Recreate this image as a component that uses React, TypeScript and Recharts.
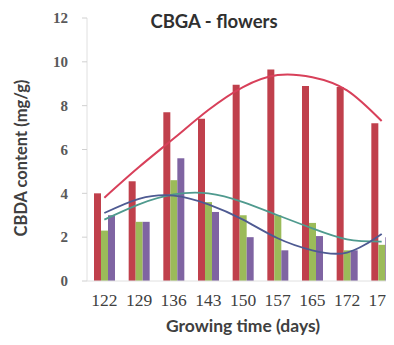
import React from 'react';
import { ComposedChart, Bar, Line, XAxis, YAxis } from 'recharts';

// growing time (days)
const days = ['122', '129', '136', '143', '150', '157', '165', '172', '179'];

// bar values, mg/g
const redBars = [4.0, 4.55, 7.7, 7.4, 8.95, 9.65, 8.9, 8.85, 7.2];
const greenBars = [2.3, 2.7, 4.6, 3.6, 3.0, 3.0, 2.65, 1.4, 1.65];
const purpleBars = [3.0, 2.7, 5.6, 3.15, 2.0, 1.4, 2.05, 1.4, 2.0];

// trend curves
const redTrend = [3.8, 5.2, 6.5, 7.8, 8.85, 9.4, 9.3, 8.7, 7.3];
const greenTrend = [2.8, 3.5, 3.95, 4.0, 3.6, 3.0, 2.4, 1.9, 1.8];
const purpleTrend = [3.1, 3.75, 3.9, 3.5, 2.8, 1.95, 1.4, 1.3, 2.15];

const yTicks = [0, 2, 4, 6, 8, 10, 12];

const data = days.map((d, i) => ({
  day: d,
  red: redBars[i],
  green: greenBars[i],
  purple: purpleBars[i],
  redT: redTrend[i],
  greenT: greenTrend[i],
  purpleT: purpleTrend[i],
}));

const sans = 'Lato, "Open Sans", sans-serif';
const serif = '"Liberation Serif", "DejaVu Serif", serif';

const App: React.FC = () => {
  return (
    <div style={{ width: 400, height: 337 }}>
      <ComposedChart
        width={400}
        height={337}
        data={data}
        margin={{ top: 10, right: 9, left: 0, bottom: 8 }}
        barGap={0}
        barCategoryGap="19%"
      >
        <XAxis
          dataKey="day"
          height={56}
          axisLine={{ stroke: '#e0e0e0' }}
          tickLine={false}
          tickMargin={7}
          interval={0}
          tick={{ fill: '#404040', fontSize: 17.5, fontFamily: serif }}
          label={{
            content: () => (
              <text x={235} y={320} textAnchor="middle" dominantBaseline="middle"
                fontFamily={sans} fontWeight="bold" fontSize={17.5} fill="#404040">
                Growing time (days)
              </text>
            ),
          }}
        />
        <YAxis
          width={79}
          domain={[0, 12]}
          ticks={yTicks}
          interval={0}
          axisLine={{ stroke: '#e0e0e0' }}
          tickLine={{ stroke: '#d0d0d0' }}
          tickSize={5}
          tickMargin={14}
          tick={{ fill: '#595959', fontSize: 15, fontFamily: serif, fontWeight: 'bold' }}
          label={{
            content: () => (
              <text x={15} y={150} textAnchor="middle" dominantBaseline="middle"
                transform="rotate(-90 15 150)"
                fontFamily={sans} fontWeight="bold" fontSize={16.5} fill="#404040">
                CBDA content (mg/g)
              </text>
            ),
          }}
        />
        <Bar dataKey="red" fill="#c0404c" barSize={7} isAnimationActive={false} />
        <Bar dataKey="green" fill="#9bbb59" barSize={7} isAnimationActive={false} />
        <Bar dataKey="purple" fill="#7f64a2" barSize={7} isAnimationActive={false} />
        <Line dataKey="redT" type="natural" stroke="#d8405a" strokeWidth={2} dot={false} isAnimationActive={false} />
        <Line dataKey="greenT" type="natural" stroke="#4f9a8e" strokeWidth={1.8} dot={false} isAnimationActive={false} />
        <Line dataKey="purpleT" type="natural" stroke="#4e5a92" strokeWidth={1.8} dot={false} isAnimationActive={false} />
        <text x={206} y={15} textAnchor="middle" dominantBaseline="middle"
          fontFamily={sans} fontWeight="bold" fontSize={18.5} fill="#303030">
          CBGA - flowers
        </text>
      </ComposedChart>
    </div>
  );
};

export default App;
